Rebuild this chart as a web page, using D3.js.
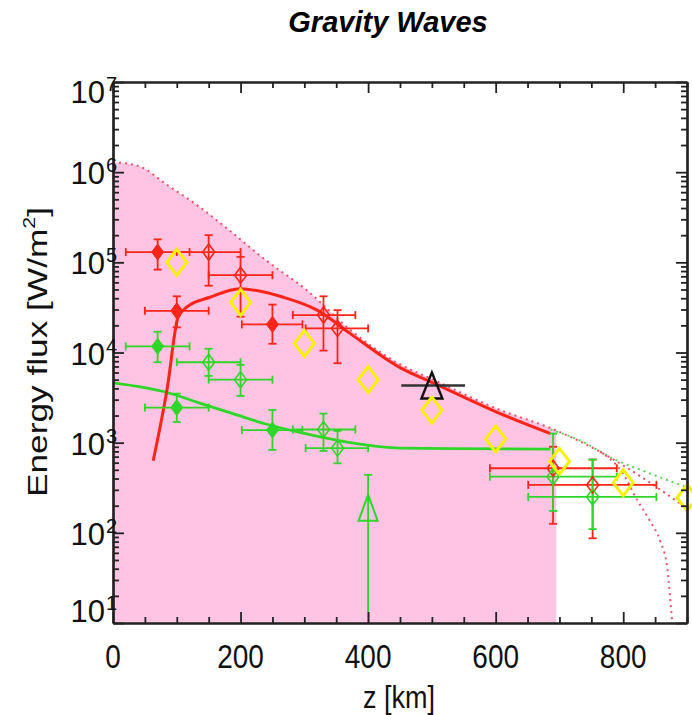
<!DOCTYPE html>
<html><head><meta charset="utf-8">
<script src="https://cdn.jsdelivr.net/npm/d3@7"></script>
<style>body{margin:0;background:#fff}svg{display:block}</style>
</head><body><svg id="c" width="692" height="715"></svg>
<script>
// ---------- data ----------
const title = "Gravity Waves";
const xLabel = "z [km]";
const xTicks = [0, 200, 400, 600, 800];
const yExponents = [1, 2, 3, 4, 5, 6, 7];

// model curves (z in km, flux in W/m^2)
const redModelZ = [63, 85, 102, 116, 152, 199, 267, 320, 372, 450, 502, 607, 686];
const redModelF = [630, 4.0e3, 2.45e4, 3.2e4, 4.1e4, 5.1e4, 4.1e4, 2.95e4, 1.62e4, 6.8e3, 4.6e3, 2.1e3, 1.26e3];
const greenModelZ = [0, 85, 136, 188, 241, 293, 372, 450, 529, 686];
const greenModelF = [4.6e3, 3.6e3, 2.75e3, 2.1e3, 1.6e3, 1.3e3, 1.0e3, 870, 860, 850];

// dotted upper envelope (boundary of the shaded region)
const envZ = [0, 40, 85, 136, 188, 240, 304, 372, 450, 502, 607, 686, 764, 837, 900];
const envF = [1.29e6, 1.17e6, 7.2e5, 4.1e5, 2.1e5, 1.05e5, 4.9e4, 1.78e4, 7.4e3, 5.0e3, 2.3e3, 1.45e3, 7.9e2, 3.8e2, 1.86e2];
const greenDotZ = [686, 733, 785, 837, 900];
const greenDotF = [1.4e3, 1.05e3, 6.6e2, 4.7e2, 3.2e2];
const redSteepZ = [764, 800, 822, 842, 858, 869, 877, 884];
const redSteepF = [7.9e2, 4.5e2, 2.3e2, 1.35e2, 81, 41, 10, 3];
const shadeEndZ = 695;

// observations: z, zLo, zHi, f, fLo, fHi
const redFilled = [
  [70, 20, 120, 1.3e5, 8.3e4, 1.8e5],
  [100, 50, 150, 2.9e4, 1.9e4, 4.2e4],
  [250, 202, 297, 2.05e4, 1.25e4, 3.4e4]
];
const redOpen = [
  [150, 100, 200, 1.3e5, 5.5e4, 2.0e5],
  [200, 150, 250, 7.2e4, 2.5e4, 1.15e5],
  [330, 282, 380, 2.6e4, 1.05e4, 4.2e4],
  [352, 302, 400, 1.85e4, 7.6e3, 2.95e4],
  [690, 591, 790, 520, 126, 900],
  [752, 651, 852, 340, 87, 650]
];
const greenFilled = [
  [70, 20, 120, 1.17e4, 7.8e3, 1.7e4],
  [100, 50, 150, 2.45e3, 1.7e3, 3.5e3],
  [250, 202, 297, 1.38e3, 830, 2.3e3]
];
const greenOpen = [
  [150, 100, 200, 7.8e3, 5.5e3, 1.1e4],
  [200, 150, 250, 5.0e3, 3.3e3, 7.3e3],
  [330, 282, 380, 1.4e3, 810, 2.1e3],
  [352, 302, 400, 870, 590, 1.35e3],
  [690, 591, 790, 420, 175, 1.26e3],
  [752, 651, 852, 250, 110, 650]
];
const greenTriangle = [[400, null, null, 190, 1, 440]];
const blackTriangle = [[500, 452, 552, 4.3e3, null, null]];
const yellowZ = [100, 200, 300, 400, 500, 600, 700, 800, 900];
const yellowF = [1.0e5, 3.6e4, 1.26e4, 5.0e3, 2.3e3, 1.1e3, 620, 360, 245];

// ---------- drawing ----------
const RED = "#ff2418", GREEN = "#2fd62a", YEL = "#f6f300", PINK = "#ffc3e3";
const svg = d3.select("#c");
const L = 113, R = 687, T = 82, B = 623;
const x = d3.scaleLinear().domain([0, 900]).range([L, R]);
const y = d3.scaleLog().domain([10, 1e7]).range([B, T]);
const defs = svg.append("defs");
defs.append("clipPath").attr("id", "plot").append("rect")
  .attr("x", L).attr("y", T).attr("width", R - L).attr("height", B - T);
defs.append("clipPath").attr("id", "shade").append("rect")
  .attr("x", L).attr("y", T).attr("width", x(shadeEndZ) - L).attr("height", B - T);

const zip = (a, b) => a.map((v, i) => [v, b[i]]);
const line = d3.line().x(d => x(d[0])).y(d => y(d[1])).curve(d3.curveMonotoneX);
const area = d3.area().x(d => x(d[0])).y0(B).y1(d => y(d[1])).curve(d3.curveMonotoneX);

const plot = svg.append("g").attr("clip-path", "url(#plot)");
plot.append("path").attr("clip-path", "url(#shade)").attr("d", area(zip(envZ, envF))).attr("fill", PINK);

// dotted curves
plot.append("path").attr("d", line(zip(greenDotZ, greenDotF))).attr("fill", "none")
  .attr("stroke", "#55d84a").attr("stroke-width", 2).attr("stroke-dasharray", "2 4");
plot.append("path").attr("d", line(zip(envZ, envF))).attr("fill", "none")
  .attr("stroke", "#f2506a").attr("stroke-width", 2).attr("stroke-dasharray", "2 4");
plot.append("path").attr("d", line(zip(redSteepZ, redSteepF))).attr("fill", "none")
  .attr("stroke", "#f2506a").attr("stroke-width", 2).attr("stroke-dasharray", "2 4");

// model curves
plot.append("path").attr("d", line(zip(greenModelZ, greenModelF))).attr("fill", "none")
  .attr("stroke", GREEN).attr("stroke-width", 2.8);
plot.append("path").attr("d", line(zip(redModelZ, redModelF))).attr("fill", "none")
  .attr("stroke", RED).attr("stroke-width", 3);

const cap = 4;
function errbars(data, color, capX = true) {
  const g = plot.append("g").attr("stroke", color).attr("stroke-width", 1.8).attr("fill", "none");
  data.forEach(d => {
    const [z, zl, zh, f, fl, fh] = d;
    const cx = x(z), cy = y(f);
    if (zl != null) {
      g.append("line").attr("x1", x(zl)).attr("x2", x(zh)).attr("y1", cy).attr("y2", cy);
      if (capX) {
        g.append("line").attr("x1", x(zl)).attr("x2", x(zl)).attr("y1", cy - cap).attr("y2", cy + cap);
        g.append("line").attr("x1", x(zh)).attr("x2", x(zh)).attr("y1", cy - cap).attr("y2", cy + cap);
      }
    }
    if (fl != null) {
      g.append("line").attr("x1", cx).attr("x2", cx).attr("y1", y(fl)).attr("y2", y(fh));
      g.append("line").attr("x1", cx - cap).attr("x2", cx + cap).attr("y1", y(fl)).attr("y2", y(fl));
      g.append("line").attr("x1", cx - cap).attr("x2", cx + cap).attr("y1", y(fh)).attr("y2", y(fh));
    }
  });
}
const diamond = (w, h) => `M0,${-h}L${w},0L0,${h}L${-w},0Z`;
const tri = (w, h) => `M0,${-h / 2}L${w / 2},${h / 2}L${-w / 2},${h / 2}Z`;
function markers(data, shape, fill, stroke, sw) {
  svg.append("g").selectAll("path").data(data).join("path")
    .attr("transform", d => `translate(${x(d[0])},${y(d[3])})`)
    .attr("d", shape).attr("fill", fill).attr("stroke", stroke).attr("stroke-width", sw);
}

errbars(redOpen, RED); errbars(greenOpen, GREEN);
errbars(redFilled, RED); errbars(greenFilled, GREEN);
errbars(greenTriangle, GREEN);
errbars(blackTriangle, "#333", false);
plot.select("g:last-child").attr("stroke-width", 2.6);

markers(redOpen, diamond(6, 8), "none", RED, 1.6);
markers(greenOpen, diamond(6, 8), "none", GREEN, 1.6);
markers(redFilled, diamond(6, 8), RED, RED, 1);
markers(greenFilled, diamond(6, 8), GREEN, GREEN, 1);
markers(greenTriangle, tri(19, 26), "none", GREEN, 2);
markers(blackTriangle, tri(21, 26), "none", "#111", 2.4);
markers(zip(yellowZ, yellowF).map(d => [d[0], null, null, d[1]]), diamond(10, 13), "none", YEL, 3);

// ---------- axes ----------
const majors = yExponents.map(e => Math.pow(10, e));
const minors = [];
for (let e = 1; e < 7; e++) for (let k = 2; k <= 9; k++) minors.push(k * Math.pow(10, e));
const xMinors = d3.range(0, 901, 50).filter(v => v % 200 !== 0);
function style(g) {
  g.selectAll("line").attr("stroke", "#222").attr("stroke-width", 1.8);
  g.select(".domain").attr("stroke", "#222").attr("stroke-width", 2.2);
}
const ax = svg.append("g");
ax.append("g").attr("transform", `translate(${L},0)`).call(d3.axisLeft(y).tickValues(majors).tickSize(-11).tickSizeOuter(0).tickFormat("")).call(style);
ax.append("g").attr("transform", `translate(${L},0)`).call(d3.axisLeft(y).tickValues(minors).tickSize(-6).tickSizeOuter(0).tickFormat("")).call(style);
ax.append("g").attr("transform", `translate(${R},0)`).call(d3.axisRight(y).tickValues(majors).tickSize(-11).tickSizeOuter(0).tickFormat("")).call(style);
ax.append("g").attr("transform", `translate(${R},0)`).call(d3.axisRight(y).tickValues(minors).tickSize(-6).tickSizeOuter(0).tickFormat("")).call(style);
ax.append("g").attr("transform", `translate(0,${B})`).call(d3.axisBottom(x).tickValues(xTicks).tickSize(-11).tickSizeOuter(0).tickFormat("")).call(style);
ax.append("g").attr("transform", `translate(0,${B})`).call(d3.axisBottom(x).tickValues(xMinors).tickSize(-6).tickSizeOuter(0).tickFormat("")).call(style);
ax.append("g").attr("transform", `translate(0,${T})`).call(d3.axisTop(x).tickValues(xTicks).tickSize(-11).tickSizeOuter(0).tickFormat("")).call(style);
ax.append("g").attr("transform", `translate(0,${T})`).call(d3.axisTop(x).tickValues(xMinors).tickSize(-6).tickSizeOuter(0).tickFormat("")).call(style);
ax.selectAll("text").remove();

const FONT = "'Liberation Sans', Arial, Helvetica, sans-serif";
// y tick labels
const ylab = svg.append("g").attr("font-family", FONT).attr("fill", "#111");
yExponents.forEach(e => {
  let base = y(Math.pow(10, e)) + 12;
  if (e === 7) base = T + 21;
  if (e === 1) base = B - 1;
  ylab.append("text").attr("x", 105).attr("y", base).attr("text-anchor", "end")
    .attr("font-size", 31).text("10");
  ylab.append("text").attr("x", 106).attr("y", base - 12).attr("font-size", 20).text(e);
});
// x tick labels
svg.append("g").attr("font-family", FONT).attr("fill", "#111").selectAll("text").data(xTicks).join("text")
  .attr("transform", d => `translate(${x(d)},668) scale(1,1.17)`).attr("text-anchor", "middle")
  .attr("font-size", 28).text(d => d);
// axis titles
svg.append("text").attr("transform", "translate(399,708) scale(1,1.17)").attr("text-anchor", "middle")
  .attr("font-family", FONT).attr("font-size", 27).attr("fill", "#111").text(xLabel);
const yt = svg.append("text").attr("transform", "translate(47,352) rotate(-90)").attr("text-anchor", "middle")
  .attr("font-family", FONT).attr("font-size", 28).attr("fill", "#111")
  .attr("textLength", 290).attr("lengthAdjust", "spacingAndGlyphs");
yt.append("tspan").text("Energy flux [W/m");
yt.append("tspan").attr("font-size", 17).attr("dy", -12).text("2");
yt.append("tspan").attr("dy", 12).text("]");
// title
svg.append("text").attr("x", 388).attr("y", 32).attr("text-anchor", "middle")
  .attr("font-family", FONT).attr("font-size", 29).attr("font-weight", "bold").attr("font-style", "italic")
  .attr("fill", "#000").text(title);
</script></body></html>
